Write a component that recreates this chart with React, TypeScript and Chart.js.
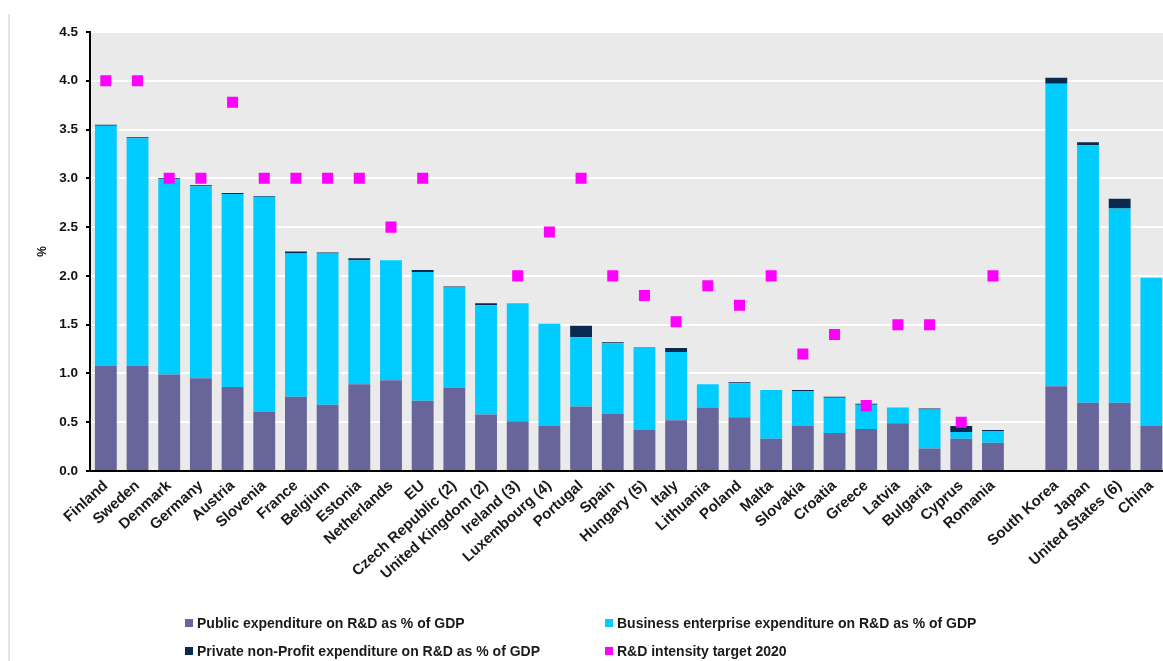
import React, { useEffect, useRef } from 'react';
import { Chart, registerables } from 'chart.js';

Chart.register(...registerables);

const categories = [
  'Finland', 'Sweden', 'Denmark', 'Germany', 'Austria', 'Slovenia', 'France', 'Belgium',
  'Estonia', 'Netherlands', 'EU', 'Czech Republic (2)', 'United Kingdom (2)', 'Ireland (3)',
  'Luxembourg (4)', 'Portugal', 'Spain', 'Hungary (5)', 'Italy', 'Lithuania', 'Poland', 'Malta',
  'Slovakia', 'Croatia', 'Greece', 'Latvia', 'Bulgaria', 'Cyprus', 'Romania', '',
  'South Korea', 'Japan', 'United States (6)', 'China',
];

const publicExp = [
  1.08, 1.08, 0.99, 0.95, 0.86, 0.61, 0.76, 0.68, 0.89, 0.93, 0.72, 0.85, 0.58, 0.51,
  0.46, 0.66, 0.59, 0.42, 0.52, 0.65, 0.55, 0.33, 0.46, 0.39, 0.43, 0.49, 0.23, 0.33, 0.29, null,
  0.87, 0.70, 0.70, 0.46,
];

const businessExp = [
  2.46, 2.33, 2.00, 1.97, 1.98, 2.20, 1.47, 1.55, 1.27, 1.23, 1.32, 1.03, 1.12, 1.21,
  1.05, 0.71, 0.72, 0.85, 0.70, 0.24, 0.35, 0.50, 0.36, 0.36, 0.25, 0.16, 0.40, 0.07, 0.12, null,
  3.10, 2.64, 1.99, 1.52,
];

const privateExp = [
  0.01, 0.01, 0.01, 0.01, 0.01, 0.01, 0.02, 0.01, 0.02, 0.0, 0.02, 0.01, 0.02, 0.0,
  0.0, 0.12, 0.01, 0.0, 0.04, 0.0, 0.01, 0.0, 0.01, 0.01, 0.01, 0.0, 0.01, 0.06, 0.01, null,
  0.06, 0.03, 0.10, 0.0,
];

const target2020 = [
  4.0, 4.0, 3.0, 3.0, 3.78, 3.0, 3.0, 3.0, 3.0, 2.5, 3.0, null, null, 2.0,
  2.45, 3.0, 2.0, 1.8, 1.53, 1.9, 1.7, 2.0, 1.2, 1.4, 0.67, 1.5, 1.5, 0.5, 2.0, null,
  null, null, null, null,
];

const seriesLabels = [
  'Public expenditure on R&D as % of GDP',
  'Business enterprise expenditure on R&D as % of GDP',
  'Private non-Profit expenditure on R&D as % of GDP',
  'R&D intensity target 2020',
];

const seriesColors = ['#67659A', '#00CCFF', '#0B2A50', '#FF00FF'];

const yAxisTitle = '%';
const yMin = 0;
const yMax = 4.5;
const yStep = 0.5;

const FONT = "'Liberation Sans', Arial, sans-serif";

const plotBackground = {
  id: 'plotBackground',
  beforeDraw(chart: any) {
    const { ctx, chartArea } = chart;
    if (!chartArea) return;
    ctx.save();
    ctx.fillStyle = '#EAEAEA';
    ctx.fillRect(chartArea.left, chartArea.top, chartArea.right - chartArea.left, chartArea.bottom - chartArea.top);
    ctx.restore();
  },
};

export default function App() {
  const canvasRef = useRef<HTMLCanvasElement | null>(null);

  useEffect(() => {
    if (!canvasRef.current) return;
    const chart = new Chart(canvasRef.current, {
      type: 'bar',
      data: {
        labels: categories,
        datasets: [
          {
            type: 'line',
            label: seriesLabels[3],
            data: target2020,
            showLine: false,
            pointStyle: 'rect',
            pointRadius: 7.8,
            pointHoverRadius: 7.8,
            pointBackgroundColor: seriesColors[3],
            pointBorderWidth: 0,
            borderColor: seriesColors[3],
            backgroundColor: seriesColors[3],
            order: 0,
          } as any,
          {
            label: seriesLabels[0],
            data: publicExp,
            backgroundColor: seriesColors[0],
            stack: 's',
            order: 1,
          },
          {
            label: seriesLabels[1],
            data: businessExp,
            backgroundColor: seriesColors[1],
            stack: 's',
            order: 1,
          },
          {
            label: seriesLabels[2],
            data: privateExp,
            backgroundColor: seriesColors[2],
            stack: 's',
            order: 1,
          },
        ],
      },
      options: {
        animation: false,
        responsive: true,
        maintainAspectRatio: false,
        layout: { padding: { top: 32, left: 0, right: 0, bottom: 0 } },
        datasets: {
          bar: { barPercentage: 0.69, categoryPercentage: 1.0, borderWidth: 0 },
        },
        plugins: {
          legend: { display: false },
          tooltip: { enabled: false },
        },
        scales: {
          x: {
            stacked: true,
            offset: true,
            grid: { display: false, drawTicks: false },
            border: { display: true, color: '#000000', width: 2 },
            ticks: {
              autoSkip: false,
              maxRotation: 42,
              minRotation: 42,
              padding: 6,
              color: '#1A1A1A',
              font: { family: FONT, size: 15, weight: 'bold' },
            },
            afterFit: (s: any) => {
              s.height = 190;
            },
          },
          y: {
            stacked: true,
            min: yMin,
            max: yMax,
            ticks: {
              stepSize: yStep,
              padding: 8,
              color: '#111111',
              font: { family: FONT, size: 13.5, weight: 'bold' },
              callback: (v: any) => Number(v).toFixed(1),
            },
            grid: {
              color: '#FFFFFF',
              lineWidth: 2,
              tickColor: '#000000',
              tickLength: 4,
              tickWidth: 2,
            },
            border: { display: true, color: '#000000', width: 2 },
            title: {
              display: true,
              text: yAxisTitle,
              color: '#111111',
              padding: { top: 35, bottom: 0 },
              font: { family: FONT, size: 12, weight: 'bold' },
            },
            afterFit: (s: any) => {
              s.width = 90;
            },
          },
        },
      },
      plugins: [plotBackground],
    });
    return () => chart.destroy();
  }, []);

  const legendItems = [
    { label: seriesLabels[0], color: seriesColors[0], left: 185, top: 622.7 },
    { label: seriesLabels[1], color: seriesColors[1], left: 605, top: 622.7 },
    { label: seriesLabels[2], color: seriesColors[2], left: 185, top: 650.7 },
    { label: seriesLabels[3], color: seriesColors[3], left: 605, top: 650.7 },
  ];

  return (
    <div style={{ position: 'fixed', left: 0, top: 0, width: 1163, height: 661, overflow: 'hidden', background: '#FFFFFF' }}>
      <div style={{ position: 'absolute', left: 8, top: 14, width: 2, height: 647, background: '#E4E4E4' }} />
      <div style={{ position: 'absolute', left: 0, top: 0, width: 1175, height: 661 }}>
        <canvas ref={canvasRef} />
      </div>
      {legendItems.map((it, i) => (
        <div
          key={i}
          style={{
            position: 'absolute',
            left: it.left,
            top: it.top - 10,
            height: 20,
            display: 'flex',
            alignItems: 'center',
            whiteSpace: 'nowrap',
            fontFamily: FONT,
            fontWeight: 'bold',
            fontSize: 14,
            color: '#1A1A1A',
          }}
        >
          <span style={{ display: 'inline-block', width: 8, height: 8, background: it.color, marginRight: 4 }} />
          <span>{it.label}</span>
        </div>
      ))}
    </div>
  );
}
